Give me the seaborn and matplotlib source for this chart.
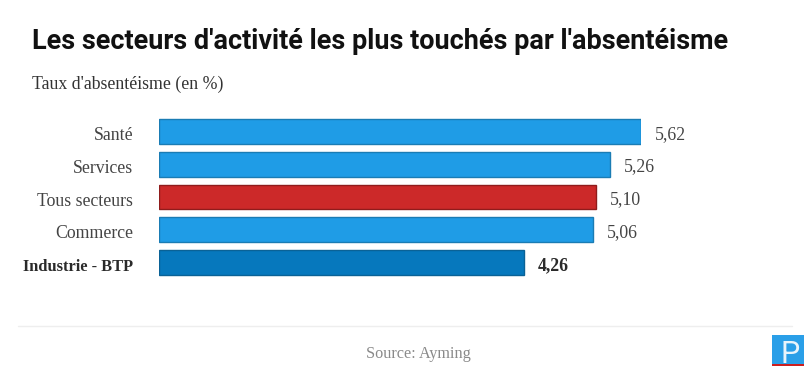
import matplotlib
matplotlib.use('Agg')
import matplotlib.pyplot as plt
from matplotlib.patches import Rectangle
from matplotlib.transforms import ScaledTranslation
import pandas as pd
import seaborn as sns

sectors = ['Santé', 'Services', 'Tous secteurs', 'Commerce', 'Industrie - BTP']
rates = [5.62, 5.26, 5.10, 5.06, 4.26]
rate_labels = ['5,62', '5,26', '5,10', '5,06', '4,26']
fills = ['#1f9ce6', '#1f9ce6', '#cc2929', '#1f9ce6', '#0678bd']
edges = ['#1a7cb4', '#1a7cb4', '#8f1c1c', '#1a7cb4', '#0a6296']

W, H = 810, 392
SERIF = 'Liberation Serif'

sns.set_theme(style='white')
df = pd.DataFrame({'sector': sectors, 'rate': rates})

fig = plt.figure(figsize=(W / 100, H / 100), dpi=100, facecolor='white')
ax = fig.add_axes([159 / W, 1 - 279 / H, (641 - 159) / W, (279 - 115) / H])

sns.barplot(data=df, x='rate', y='sector', hue='sector', palette=fills, legend=False,
            width=0.76, ax=ax, saturation=1)
for bar, edge in zip(ax.patches, edges):
    bar.set_edgecolor(edge)
    bar.set_linewidth(1.0)

ax.set_xlim(0, 5.62)
ax.set_ylim(4.5, -0.5)
ax.set_xlabel('')
ax.set_ylabel('')
ax.set_xticks([])
ax.tick_params(axis='y', length=0, pad=18.7)
sns.despine(ax=ax, left=True, bottom=True)

# tick labels sit about 2px below the bar centres
shift = ScaledTranslation(0, -2 / 100, fig.dpi_scale_trans)
for i, tick in enumerate(ax.get_yticklabels()):
    tick.set_transform(tick.get_transform() + shift)
    tick.set_fontfamily(SERIF)
    tick.set_fontsize(11.8 if i == 4 else 12.8)
    tick.set_color('#2a2a2a' if i == 4 else '#444444')
    tick.set_fontweight('bold' if i == 4 else 'normal')

for i, (val, lab) in enumerate(zip(rates, rate_labels)):
    ax.annotate(lab, (val, i), xytext=(10, -2), textcoords='offset points', va='center',
                family=SERIF, fontsize=12.8, color='#2a2a2a' if i == 4 else '#444444',
                fontweight='bold' if i == 4 else 'normal', annotation_clip=False)

fig.text(32 / W, 1 - 49 / H, "Les secteurs d'activité les plus touchés par l'absentéisme",
         family='Roboto', fontweight='bold', fontsize=19.45, color='#111111', va='baseline')
fig.text(32 / W, 1 - 89 / H, "Taux d'absentéisme (en %)", family=SERIF, fontsize=12.8,
         color='#333333', va='baseline')
fig.text(418 / W, 1 - 354 / H, 'Source: Ayming', family=SERIF, fontsize=11.7, color='#8a8a8a',
         ha='center', va='center')

# footer rule and logo
fig.add_artist(plt.Line2D([18 / W, 792 / W], [1 - 326 / H, 1 - 326 / H], color='#eeeeee', lw=1))
fig.add_artist(Rectangle((772 / W, 1 - 364 / H), 32 / W, 29 / H, transform=fig.transFigure,
                         facecolor='#2a9fe8', edgecolor='none'))
fig.add_artist(Rectangle((772 / W, 1 - 366 / H), 32 / W, 2 / H, transform=fig.transFigure,
                         facecolor='#cc1f1f', edgecolor='none'))
fig.text(790 / W, 1 - 363 / H, 'P', family='Roboto', fontsize=22, color='#e8f4fb',
         ha='center', va='baseline')

fig.savefig('out.png', dpi=100, facecolor='white')
plt.close(fig)
